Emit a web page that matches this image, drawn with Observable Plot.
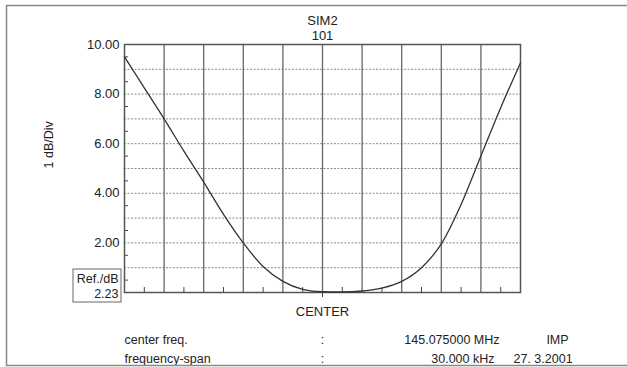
<!DOCTYPE html>
<html>
<head>
<meta charset="utf-8">
<script src="https://cdn.jsdelivr.net/npm/d3@7"></script>
<script src="https://cdn.jsdelivr.net/npm/@observablehq/plot@0.6"></script>
<style>
  html, body { margin: 0; padding: 0; background: #fff; }
  #chart svg { display: block; }
</style>
</head>
<body>
<div id="chart"></div>
<script>
// Frequency offset from center (kHz) and attenuation (dB)
const freqKHz = [-15, -13.5, -12, -10.5, -9, -7.5, -6, -4.5, -3, -1.5, 0, 1.5, 3, 4.5, 6, 7.5, 9, 10.5, 12, 13.5, 15];
const attenDb = [9.5, 8.25, 7.0, 5.7, 4.45, 3.15, 2.0, 1.05, 0.45, 0.13, 0.03, 0.02, 0.06, 0.18, 0.45, 1.0, 1.96, 3.55, 5.5, 7.45, 9.25];

const yTicks = [2, 4, 6, 8, 10];
const yGrid = [1, 2, 3, 4, 5, 6, 7, 8, 9];
const yMinor = [0.5, 1.5, 2.5, 3.5, 4.5, 5.5, 6.5, 7.5, 8.5, 9.5];
const xGrid = [-12, -9, -6, -3, 0, 3, 6, 9, 12];
const xMinor = [-13.5, -10.5, -7.5, -4.5, -1.5, 1.5, 4.5, 7.5, 10.5, 13.5];

const titleLines = ["SIM2", "101"];
const yLabel = "1 dB/Div";
const refLabel = "Ref./dB";
const refValue = "2.23";
const centerLabel = "CENTER";
const infoNames = ["center freq.", "frequency-span"];
const infoValues = ["145.075000 MHz", "30.000 kHz"];
const infoExtra = ["IMP", "27. 3.2001"];

const trace = freqKHz.map((f, i) => ({f, db: attenDb[i]}));

const font = "'Liberation Sans', Arial, sans-serif";
const fs = 12.5;
const mid = {lineAnchor: "middle", fontSize: fs};

const chart = Plot.plot({
  width: 627,
  height: 367,
  marginLeft: 124,
  marginRight: 107,
  marginTop: 44,
  marginBottom: 75,
  style: {fontFamily: font, fontSize: fs + "px", background: "#fff", color: "#222"},
  x: {domain: [-15, 15], axis: null},
  y: {domain: [0, 10], axis: null},
  marks: [
    // horizontal grid (dotted)
    Plot.ruleY(yGrid, {stroke: "#8a8a8a", strokeWidth: 1, strokeDasharray: "2,1.5"}),
    // vertical grid
    Plot.ruleX(xGrid, {stroke: "#666", strokeWidth: 1.3}),
    // minor ticks on left
    Plot.ruleY(yMinor, {x1: -15, x2: -14.7, stroke: "#444", strokeWidth: 1}),
    // minor ticks on bottom
    Plot.ruleX(xMinor, {y1: 0, y2: 0.2, stroke: "#444", strokeWidth: 1}),
    // center tick extending below
    Plot.ruleX([0], {y1: 0, y2: 0.2, dy: 5, stroke: "#444", strokeWidth: 1}),
    Plot.frame({stroke: "#555", strokeWidth: 1.5}),
    // trace
    Plot.line(trace, {x: "f", y: "db", curve: "monotone-x", stroke: "#333", strokeWidth: 1.3}),
    // y axis labels
    Plot.axisY(yTicks, {tickSize: 0, tickPadding: 5, tickFormat: d3.format(".2f"), fontSize: 13, label: null}),
    Plot.text([yLabel], {frameAnchor: "left", dx: -76, rotate: -90, fontSize: fs}),
    // title
    Plot.text([titleLines[0]], {frameAnchor: "top", dy: -24, lineAnchor: "middle", fontSize: 13}),
    Plot.text([titleLines[1]], {frameAnchor: "top", dy: -9, lineAnchor: "middle", fontSize: 13}),
    // reference box text
    Plot.text([refLabel], {frameAnchor: "bottom-left", dx: -6, dy: -14, textAnchor: "end", ...mid}),
    Plot.text([refValue], {frameAnchor: "bottom-left", dx: -6, dy: 1, textAnchor: "end", ...mid}),
    // center label
    Plot.text([{f: 0, label: centerLabel}], {x: "f", text: "label", frameAnchor: "bottom", dy: 19, lineAnchor: "middle", fontSize: 13}),
    // info lines
    Plot.text([infoNames[0]], {x: () => -15, frameAnchor: "bottom", dy: 47, textAnchor: "start", ...mid}),
    Plot.text([infoNames[1]], {x: () => -15, frameAnchor: "bottom", dy: 66, textAnchor: "start", ...mid}),
    Plot.text([":"], {x: () => 0, frameAnchor: "bottom", dy: 47, ...mid}),
    Plot.text([":"], {x: () => 0, frameAnchor: "bottom", dy: 66, ...mid}),
    Plot.text([infoValues[0]], {frameAnchor: "bottom-right", dx: -21, dy: 47, textAnchor: "end", ...mid}),
    Plot.text([infoValues[1]], {frameAnchor: "bottom-right", dx: -26, dy: 66, textAnchor: "end", ...mid}),
    Plot.text([infoExtra[0]], {frameAnchor: "bottom-right", dx: 37, dy: 47, textAnchor: "middle", ...mid}),
    Plot.text([infoExtra[1]], {frameAnchor: "bottom-right", dx: -7, dy: 66, textAnchor: "start", ...mid})
  ]
});

document.getElementById("chart").appendChild(chart);

// decorations: ref box and outer page frame
const svg = d3.select(chart);
const left = 124, bottom = 367 - 75;
svg.append("rect")
  .attr("x", left - 51).attr("y", bottom - 23)
  .attr("width", 48).attr("height", 33)
  .attr("fill", "none").attr("stroke", "#666").attr("stroke-width", 1);
svg.append("path")
  .attr("d", "M627,5.5H6.5V365.5H627")
  .attr("fill", "none").attr("stroke", "#888").attr("stroke-width", 1.5);
</script>
</body>
</html>
